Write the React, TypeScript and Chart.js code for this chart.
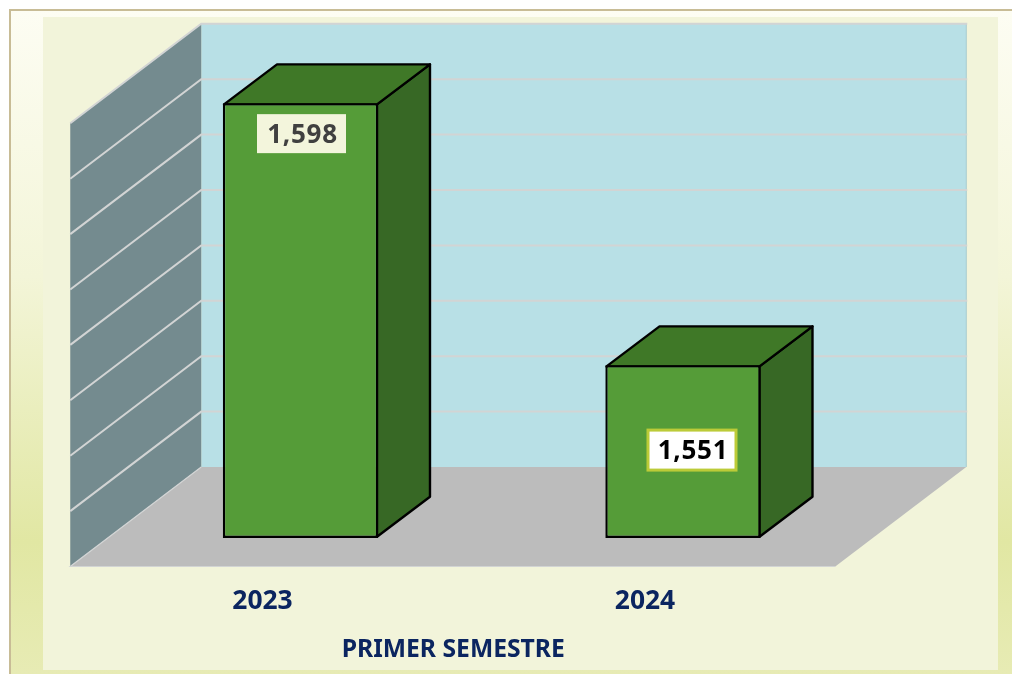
import React, { useEffect, useRef } from "react";
import { Chart, registerables } from "chart.js";

Chart.register(...registerables);

const categories = ["2023", "2024"];
const values = [1598, 1551];
const axisMin = 1520;
const axisMax = 1600;
const axisStep = 10;
const axisTitle = "PRIMER SEMESTRE";

const FONT = '"Noto Sans", sans-serif';
const NAVY = "#0b2560";
const BORDER = 2.4;

// perspective offsets
const BAR_DX = 53, BAR_DY = -40;
const WALL_DX = 131, WALL_DY = -99.5;
const FRONT_DX = -39;
const WALL_TOP = 123.3, WALL_BOTTOM = 566.5;

const poly = (c: CanvasRenderingContext2D, pts: number[][], fill: string, stroke?: string, lw = 2) => {
  c.beginPath();
  pts.forEach((p, i) => (i ? c.lineTo(p[0], p[1]) : c.moveTo(p[0], p[1])));
  c.closePath();
  c.fillStyle = fill;
  c.fill();
  if (stroke) {
    c.strokeStyle = stroke;
    c.lineWidth = lw;
    c.lineJoin = "round";
    c.stroke();
  }
};

const scene3d = {
  id: "scene3d",
  beforeDatasetsDraw(chart: any) {
    const c: CanvasRenderingContext2D = chart.ctx;
    const { x, y } = chart.scales;
    const xl = x.left + FRONT_DX, xr = x.right + FRONT_DX;
    const wallY = (v: number) =>
      WALL_BOTTOM - ((y.bottom - y.getPixelForValue(v)) / (y.bottom - y.top)) * (WALL_BOTTOM - WALL_TOP);
    const yt = wallY(axisMax);
    const yb = wallY(axisMin);
    c.save();
    // back wall
    poly(c, [[xl + WALL_DX, yt + WALL_DY], [xr + WALL_DX, yt + WALL_DY], [xr + WALL_DX, yb + WALL_DY], [xl + WALL_DX, yb + WALL_DY]], "#b8e0e6");
    // left wall
    poly(c, [[xl, yt], [xl + WALL_DX, yt + WALL_DY], [xl + WALL_DX, yb + WALL_DY], [xl, yb]], "#748b8f");
    // floor
    poly(c, [[xl, yb], [xl + WALL_DX, yb + WALL_DY], [xr + WALL_DX, yb + WALL_DY], [xr, yb]], "#bcbcbc");
    // right edge of the back wall
    c.strokeStyle = "#a8ccd0";
    c.lineWidth = 1;
    c.beginPath();
    c.moveTo(xr + WALL_DX, yt + WALL_DY);
    c.lineTo(xr + WALL_DX, yb + WALL_DY);
    c.stroke();
    // gridlines
    c.strokeStyle = "#d2d4d4";
    c.lineWidth = 2;
    y.ticks.forEach((t: any) => {
      if (t.value === axisMin) return;
      const py = wallY(t.value);
      c.beginPath();
      c.moveTo(xl, py);
      c.lineTo(xl + WALL_DX, py + WALL_DY);
      c.lineTo(xr + WALL_DX + 1, py + WALL_DY);
      c.stroke();
    });
    // light edge of the floor
    c.lineWidth = 1.2;
    c.beginPath();
    c.moveTo(xl + WALL_DX, yb + WALL_DY);
    c.lineTo(xl, yb);
    c.lineTo(xr, yb);
    c.stroke();
    // bar side and top faces
    const inset = BORDER / 2;
    chart.getDatasetMeta(0).data.forEach((b: any) => {
      const l = b.x - b.width / 2 + inset, r = b.x + b.width / 2 - inset;
      const t = b.y + inset, bt = b.base - inset;
      poly(c, [[r, t], [r + BAR_DX, t + BAR_DY], [r + BAR_DX, bt + BAR_DY], [r, bt]], "#376825", "#000", BORDER);
      poly(c, [[l, t], [l + BAR_DX, t + BAR_DY], [r + BAR_DX, t + BAR_DY], [r, t]], "#3f7827", "#000", BORDER);
    });
    c.restore();
  },
  afterDatasetsDraw(chart: any) {
    const c: CanvasRenderingContext2D = chart.ctx;
    const styles = [
      { dx: 1, dy: (b: any) => 30.5, fill: "#f3f5dc", stroke: null, text: "#404040", w: 89, h: 39 },
      { dx: 9, dy: (b: any) => (b.base - b.y) / 2 - 1.5, fill: "#ffffff", stroke: "#bccb38", text: "#000000", w: 88, h: 40 },
    ];
    c.save();
    chart.getDatasetMeta(0).data.forEach((b: any, i: number) => {
      const s = styles[i];
      const cx = b.x + s.dx, cy = b.y + s.dy(b);
      c.fillStyle = s.fill;
      c.fillRect(cx - s.w / 2, cy - s.h / 2, s.w, s.h);
      if (s.stroke) {
        c.strokeStyle = s.stroke;
        c.lineWidth = 3;
        c.strokeRect(cx - s.w / 2, cy - s.h / 2, s.w, s.h);
      }
      c.fillStyle = s.text;
      c.font = `bold 26px ${FONT}`;
      (c as any).letterSpacing = "0.7px";
      c.textAlign = "center";
      c.textBaseline = "middle";
      c.fillText(values[i].toLocaleString("en-US"), cx + 1, cy + 1.5);
    });
    // axis title, centred on the front edge of the floor
    const { x } = chart.scales;
    (c as any).letterSpacing = "0px";
    c.fillStyle = NAVY;
    c.font = `bold 24.7px ${FONT}`;
    c.textAlign = "center";
    c.textBaseline = "middle";
    c.fillText(axisTitle, (x.left + x.right) / 2 + FRONT_DX + 0.5, 650);
    c.restore();
  },
};

export default function App() {
  const ref = useRef<HTMLCanvasElement>(null);
  useEffect(() => {
    const chart = new Chart(ref.current!, {
      type: "bar",
      data: {
        labels: categories,
        datasets: [
          {
            data: values.map((v) => [axisMin, v]),
            backgroundColor: "#559c38",
            borderColor: "#000000",
            borderWidth: BORDER,
            borderSkipped: false,
            barPercentage: 0.4062,
            categoryPercentage: 1,
          },
        ],
      },
      options: {
        responsive: false,
        animation: false,
        layout: { padding: { left: 109.25, right: 137.75, top: 92, bottom: 0 } },
        plugins: { legend: { display: false }, tooltip: { enabled: false } },
        scales: {
          x: {
            grid: { display: false },
            border: { display: false },
            afterFit: (s: any) => { s.height = 136; },
            ticks: {
              autoSkip: false,
              maxRotation: 0,
              minRotation: 0,
              labelOffset: -38,
              padding: 40,
              color: NAVY,
              font: { family: FONT, size: 26.4, weight: "bold" },
            },
          },
          y: {
            display: true,
            min: axisMin,
            max: axisMax,
            afterFit: (s: any) => { s.width = 0; },
            grid: { display: false },
            border: { display: false },
            ticks: { stepSize: axisStep, display: false },
          },
        },
      },
      plugins: [scene3d],
    } as any);
    return () => chart.destroy();
  }, []);
  return (
    <div style={{ position: "fixed", left: 0, top: 0, width: 1012, height: 674, overflow: "hidden", background: "#fff" }}>
      <div
        style={{
          position: "absolute", left: 9, top: 9, width: 1003, height: 665, boxSizing: "border-box",
          borderTop: "2px solid #c8bc96", borderLeft: "2px solid #c8bc96",
          background: "linear-gradient(#fdfdf3 0%, #f3f5d8 40%, #e1e7a3 80%, #e7ebb4 100%)",
        }}
      />
      <div
        style={{
          position: "absolute", left: 43, top: 17, width: 955, height: 653,
          background: "#f2f4da",
        }}
      />
      <canvas ref={ref} width={1012} height={674} style={{ position: "absolute", left: 0, top: 0, display: "block" }} />
    </div>
  );
}
